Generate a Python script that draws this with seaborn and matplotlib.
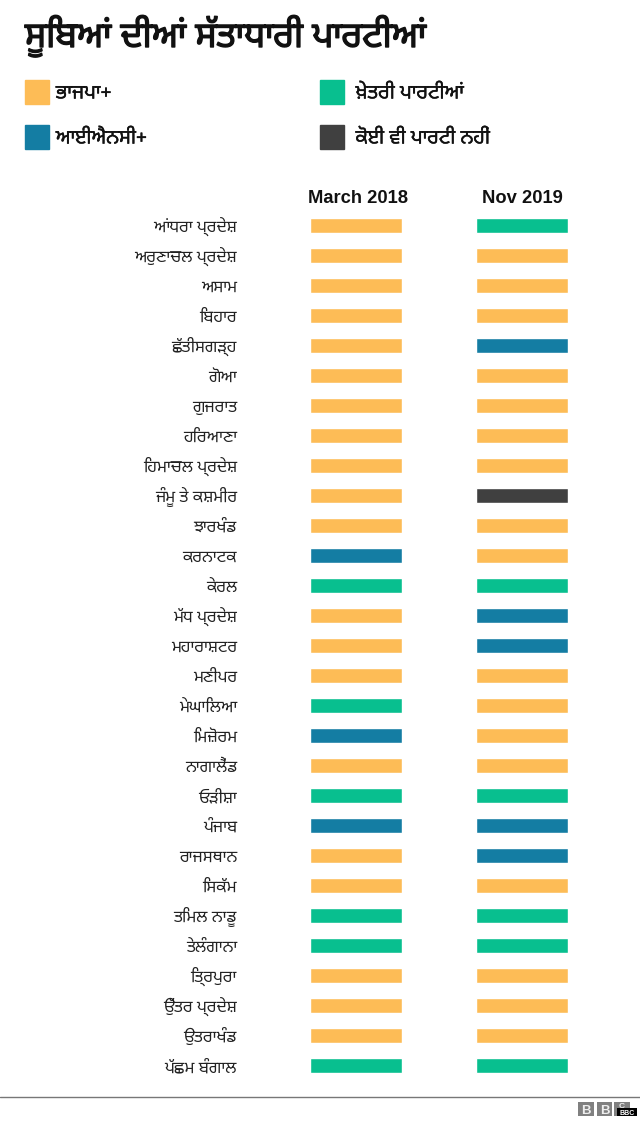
import re

import matplotlib
matplotlib.use('Agg')
import matplotlib.pyplot as plt
import matplotlib.patheffects as pe
from matplotlib.patches import Patch, Rectangle
from matplotlib.transforms import ScaledTranslation
import pandas as pd
import seaborn as sns

# ਸੂਬੇ, top to bottom
states = ['ਆਂਧਰਾ ਪ੍ਰਦੇਸ਼', 'ਅਰੁਣਾਚਲ ਪ੍ਰਦੇਸ਼', 'ਅਸਾਮ', 'ਬਿਹਾਰ', 'ਛੱਤੀਸਗੜ੍ਹ', 'ਗੋਆ', 'ਗੁਜਰਾਤ', 'ਹਰਿਆਣਾ',
          'ਹਿਮਾਚਲ ਪ੍ਰਦੇਸ਼', 'ਜੰਮੂ ਤੇ ਕਸ਼ਮੀਰ', 'ਝਾਰਖੰਡ', 'ਕਰਨਾਟਕ', 'ਕੇਰਲ', 'ਮੱਧ ਪ੍ਰਦੇਸ਼', 'ਮਹਾਰਾਸ਼ਟਰ',
          'ਮਣੀਪਰ', 'ਮੇਘਾਲਿਆ', 'ਮਿਜ਼ੋਰਮ', 'ਨਾਗਾਲੈਂਡ', 'ਓੜੀਸ਼ਾ', 'ਪੰਜਾਬ', 'ਰਾਜਸਥਾਨ', 'ਸਿਕੱਮ', 'ਤਮਿਲ ਨਾਡੂ',
          'ਤੇਲੰਗਾਨਾ', 'ਤ੍ਰਿਪੁਰਾ', 'ਉੱਤਰ ਪ੍ਰਦੇਸ਼', 'ਉਤਰਾਖੰਡ', 'ਪੱਛਮ ਬੰਗਾਲ']

# B = ਭਾਜਪਾ+, I = ਆਈਐਨਸੀ+, R = ਖ਼ੇਤਰੀ ਪਾਰਟੀਆਂ, N = ਕੋਈ ਵੀ ਪਾਰਟੀ ਨਹੀਂ
march_2018 = ['B', 'B', 'B', 'B', 'B', 'B', 'B', 'B', 'B', 'B', 'B', 'I', 'R', 'B', 'B',
              'B', 'R', 'I', 'B', 'R', 'I', 'B', 'B', 'R', 'R', 'B', 'B', 'B', 'R']
nov_2019 = ['R', 'B', 'B', 'B', 'I', 'B', 'B', 'B', 'B', 'N', 'B', 'B', 'R', 'I', 'I',
            'B', 'B', 'B', 'B', 'R', 'I', 'I', 'B', 'R', 'R', 'B', 'B', 'B', 'R']

party_names = {'B': 'ਭਾਜਪਾ+', 'I': 'ਆਈਐਨਸੀ+', 'R': 'ਖ਼ੇਤਰੀ ਪਾਰਟੀਆਂ', 'N': 'ਕੋਈ ਵੀ ਪਾਰਟੀ ਨਹੀਂ'}
party_colors = {'B': '#FDBC56', 'I': '#147DA3', 'R': '#08BF8F', 'N': '#404040'}

title = 'ਸੂਬਿਆਂ ਦੀਆਂ ਸੱਤਾਧਾਰੀ ਪਾਰਟੀਆਂ'

W, H = 640, 1121
FONTS = ['Noto Sans Gurmukhi', 'Lohit Gurmukhi', 'Liberation Sans', 'DejaVu Sans']


def visual(text):
    # matplotlib does no shaping: sihari has to come before its consonant, and
    # precomposed letters draw better than a consonant plus nukta
    for plain, composed in [('ਸ਼', '\u0a36'), ('ਖ਼', '\u0a59'), ('ਗ਼', '\u0a5a'), ('ਜ਼', '\u0a5b'), ('ਫ਼', '\u0a5e')]:
        text = text.replace(plain, composed)
    return re.sub('([\u0a15-\u0a39\u0a59-\u0a5e](?:\u0a4d[\u0a15-\u0a39])?)\u0a3f', '\u0a3f\\1', text)


sns.set_theme(style='white')
plt.rcParams['font.family'] = FONTS

fig = plt.figure(figsize=(W / 100, H / 100), dpi=100, facecolor='white')


def px_axes(x0, x1, y0, y1):
    return fig.add_axes([x0 / W, 1 - y1 / H, (x1 - x0) / W, (y1 - y0) / H])


def party_column(ax, statuses, header, header_x):
    df = pd.DataFrame({'state': [visual(s) for s in states], 'party': statuses, 'share': 1})
    sns.barplot(data=df, x='share', y='state', hue='party', palette=party_colors,
                dodge=False, width=14.5 / 30, legend=False, saturation=1, ax=ax)
    ax.set_xlim(0, 1)
    ax.set_ylim(len(states) - 0.5, -0.5)
    ax.set_xlabel('')
    ax.set_ylabel('')
    ax.set_xticks([])
    sns.despine(ax=ax, left=True, bottom=True)
    ax.set_title(header, x=header_x, fontsize=13.2, fontweight='bold', pad=5.5, color='#111111',
                 family=['Liberation Sans'])


ax_left = px_axes(310, 402, 210.5, 1080.5)
ax_right = px_axes(476, 568, 210.5, 1080.5)
party_column(ax_left, march_2018, 'March 2018', 0.52)
party_column(ax_right, nov_2019, 'Nov 2019', 0.5)

ax_left.tick_params(axis='y', length=0, pad=52.6, labelsize=12, labelcolor='#222222')
ax_right.set_yticks([])

# baseline-aligned state names so the row text doesn't jump with the marks
for label in ax_left.get_yticklabels():
    label.set_va('baseline')
    label.set_transform(label.get_transform() + ScaledTranslation(0, -6.5 / 100, fig.dpi_scale_trans))

title_text = fig.text(25 / W, 1 - 47 / H, visual(title), fontsize=25.5, fontweight='normal', color='#111111',
                      ha='left', va='baseline')
title_text.set_path_effects([pe.withStroke(linewidth=1.0, foreground='#111111')])


def legend_column(keys, x, text_pad):
    handles = [Patch(color=party_colors[k], label=visual(party_names[k])) for k in keys]
    leg = fig.legend(handles=handles, loc='upper left', bbox_to_anchor=(x / W, 1 - 80 / H),
                     frameon=False, fontsize=14.3, borderpad=0, borderaxespad=0,
                     handlelength=1.19, handleheight=1.48, handletextpad=text_pad, labelspacing=1.06)
    for t in leg.get_texts():
        t.set_color('#111111')
        t.set_path_effects([pe.withStroke(linewidth=0.3, foreground='#111111')])


legend_column(['B', 'I'], 25, 0.36)
legend_column(['R', 'N'], 320, 0.6)

# footer rule and BBC block logo
fig.add_artist(plt.Line2D([0, 1], [1 - 1097 / H] * 2, color='#777777', lw=1))
for x0, x1, letter, y in [(578, 594, 'B', 1109), (597, 612, 'B', 1109), (614, 630, 'C', 1105)]:
    fig.add_artist(Rectangle((x0 / W, 1 - 1116 / H), (x1 - x0) / W, 14 / H, color='#808080', lw=0))
    fig.text((x0 + x1) / 2 / W, 1 - y / H, letter, color='#eeeeee', fontsize=9.5 if letter == 'B' else 6,
             fontweight='bold', ha='center', va='center_baseline', family=['Liberation Sans'])
fig.add_artist(Rectangle((617 / W, 1 - 1116 / H), 20 / W, 8 / H, color='black', lw=0, zorder=5))
fig.text(627 / W, 1 - 1112.5 / H, 'BBC', color='white', fontsize=5, fontweight='bold', ha='center',
         va='center_baseline', family=['Liberation Sans'], zorder=6)

fig.savefig('out.png', dpi=100)
